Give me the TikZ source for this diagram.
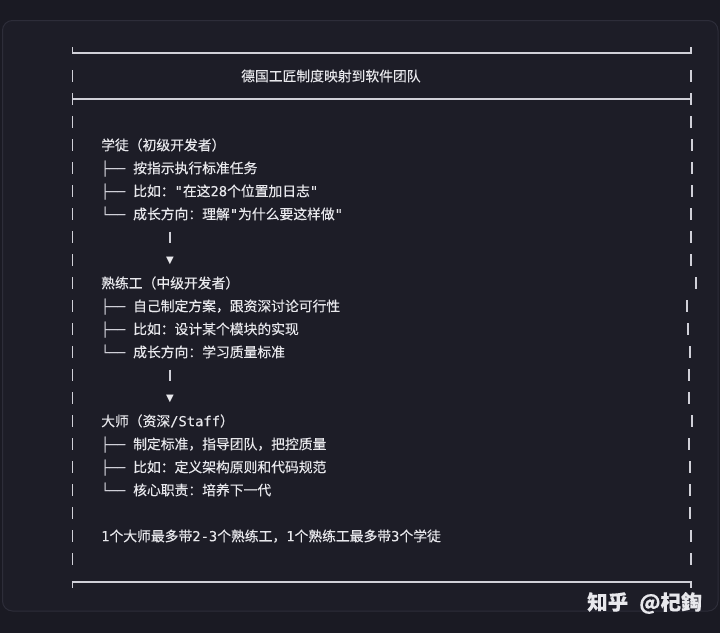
\documentclass[tikz,border=0pt]{standalone}
\usepackage{fontspec}
\setmainfont{Noto Sans CJK SC}[FakeBold=0.25]
\newfontfamily\plainfont{Noto Sans CJK SC}
\newfontfamily\monofont{DejaVu Sans Mono}[FakeBold=0.2]
\newfontfamily\symbfont{DejaVu Sans}
\newcommand{\mn}[1]{{\monofont #1}}
\definecolor{bgcol}{HTML}{1A1A23}
\definecolor{panelcol}{HTML}{1D1D27}
\definecolor{panelline}{HTML}{2D2D39}
\definecolor{txtcol}{HTML}{E8E8EC}
\definecolor{framecol}{HTML}{D0D0D8}
\tikzset{
  txt/.style={anchor=west, inner sep=0pt, text=txtcol, font=\fontsize{13.8pt}{16pt}\selectfont, text height=12pt, text depth=1.6pt},
  treeglyph/.style={anchor=west, inner sep=0pt, text=framecol, font=\monofont\fontsize{13.3pt}{16pt}\selectfont, text height=12pt, text depth=1.6pt},
  frame/.style={draw=framecol, line width=1.6pt},
  bar/.style={draw=framecol, line width=1.6pt},
  arrowtip/.style={inner sep=0pt, text=txtcol, font=\symbfont\fontsize{10pt}{11pt}\selectfont},
  watermark/.style={inner sep=0pt, text=txtcol, font=\bfseries\fontsize{20.5pt}{22pt}\selectfont}
}
\begin{document}
\begin{tikzpicture}[x=1pt, y=-1pt]
\useasboundingbox (0,0) rectangle (720,633);
\fill[bgcol] (0,0) rectangle (720,633);
\draw[panelline, fill=panelcol, line width=1pt, rounded corners=10pt] (2.5,20.5) rectangle (718,611);

% frame lines
\coordinate (tl) at (72.5,53); \coordinate (tr) at (691,53);
\coordinate (sl) at (72.5,99); \coordinate (sr) at (691,99);
\coordinate (bl) at (72.5,582); \coordinate (br) at (691,582);
\draw[frame] ([yshift=6pt]tl) -- (tl) -- (tr) -- ([yshift=6pt]tr);
\draw[frame] ([yshift=-6pt]sl) -- ([yshift=6pt]sl);
\draw[frame] ([yshift=-6pt]sr) -- ([yshift=6pt]sr);
\draw[frame] (sl) -- (sr);
\draw[frame] ([yshift=-6pt]bl) -- (bl) -- (br) -- ([yshift=-6pt]br);

% side bars per row: row index/right x
\foreach \k/\rx in {0/691,2/691,3/692,4/692,5/692,6/691,7/691,8/691,9/696,10/687,11/688,12/690,13/689,14/689,15/692,16/689,17/690,18/690,19/690,20/691,21/691}{
  \pgfmathsetmacro{\yy}{76+23*\k}
  \draw[bar] (72.5,\yy-6) -- (72.5,\yy+6);
  \draw[bar] (\rx,\yy-6) -- (\rx,\yy+6);
}

% title
\node[txt] (title) at (241,76) {德国工匠制度映射到软件团队};

% apprentice
\node[txt] (a0) at (101,145) {学徒（初级开发者）};
\node[treeglyph] (ag1) at (101,168) {├──};
\node[txt] (a1) at (133,168) {按指示执行标准任务};
\node[treeglyph] (ag2) at (101,191) {├──};
\node[txt] (a2) at (133,191) {比如：\mn{"}在这\mn{28}个位置加日志\mn{"}};
\node[treeglyph] (ag3) at (101,214) {└──};
\node[txt] (a3) at (133,214) {成长方向：理解\mn{"}为什么要这样做\mn{"}};
\coordinate (p1t) at (170,231.5); \coordinate (p1b) at (170,243);
\draw[bar] (p1t) -- (p1b);
\node[arrowtip] (t1) at (170,260.5) {▼};

% journeyman
\node[txt] (b0) at (101,283) {熟练工（中级开发者）};
\node[treeglyph] (bg1) at (101,306) {├──};
\node[txt] (b1) at (133,306) {自己制定方案，跟资深讨论可行性};
\node[treeglyph] (bg2) at (101,329) {├──};
\node[txt] (b2) at (133,329) {比如：设计某个模块的实现};
\node[treeglyph] (bg3) at (101,352) {└──};
\node[txt] (b3) at (133,352) {成长方向：学习质量标准};
\coordinate (p2t) at (170,369.5); \coordinate (p2b) at (170,381);
\draw[bar] (p2t) -- (p2b);
\node[arrowtip] (t2) at (170,398.5) {▼};

% master
\node[txt] (c0) at (101,421) {大师（资深\mn{/Staff}）};
\node[treeglyph] (cg1) at (101,444) {├──};
\node[txt] (c1) at (133,444) {制定标准，指导团队，把控质量};
\node[treeglyph] (cg2) at (101,467) {├──};
\node[txt] (c2) at (133,467) {比如：定义架构原则和代码规范};
\node[treeglyph] (cg3) at (101,490) {└──};
\node[txt] (c3) at (133,490) {核心职责：培养下一代};

\node[txt] (ratio) at (101,536) {\mn{1}个大师最多带\mn{2-3}个熟练工，\mn{1}个熟练工最多带\mn{3}个学徒};

% watermark
\node[watermark, anchor=west] (wm) at (587,603) {知乎\hspace{11pt}@杞鋾};
\end{tikzpicture}
\end{document}
